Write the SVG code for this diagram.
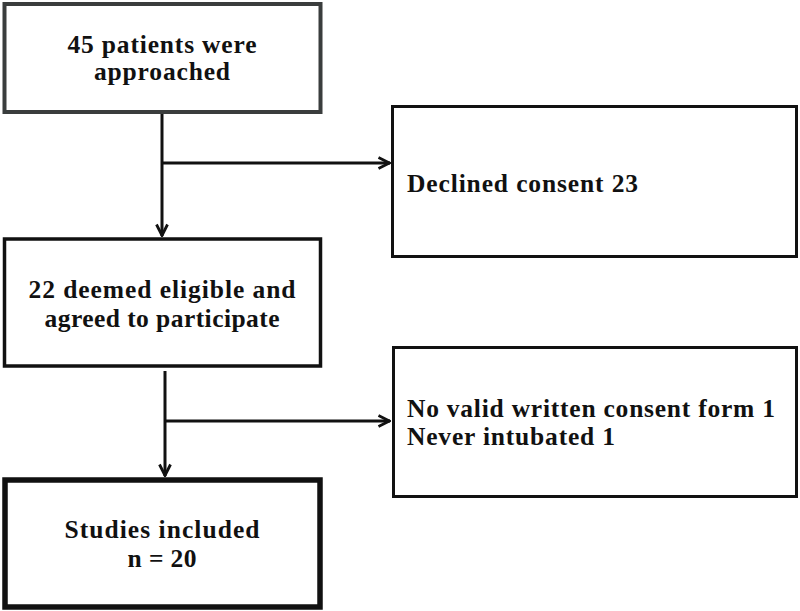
<svg xmlns="http://www.w3.org/2000/svg" width="800" height="611" viewBox="0 0 800 611">
<style>
.box{fill:#fff;stroke:#111;}
.t{font-family:"Liberation Serif","DejaVu Serif",serif;font-weight:bold;font-size:25.5px;fill:#111;}
.c{text-anchor:middle;}
.ln{stroke:#111;stroke-width:3;fill:none;}
</style>
<defs>
<marker id="ah" viewBox="0 0 14 14" refX="13" refY="7" markerWidth="14" markerHeight="14" markerUnits="userSpaceOnUse" orient="auto">
<path d="M1.5,1.5 L12.5,7 L1.5,12.5" fill="none" stroke="#111" stroke-width="2.8"/>
</marker>
</defs>
<rect width="800" height="611" fill="#fff"/>
<g id="connectors">
<line class="ln" x1="162" y1="113" x2="162" y2="236" marker-end="url(#ah)"/>
<line class="ln" x1="162" y1="163" x2="390" y2="163" marker-end="url(#ah)"/>
<line class="ln" x1="165" y1="371" x2="165" y2="476" marker-end="url(#ah)"/>
<line class="ln" x1="165" y1="421" x2="390" y2="421" marker-end="url(#ah)"/>
</g>
<g id="n1">
<rect class="box" x="4.5" y="4" width="316" height="108" stroke-width="4" style="stroke:#3a3d3d"/>
<text class="t c" x="162" y="53" textLength="189">45 patients were</text>
<text class="t c" x="162" y="80" textLength="136">approached</text>
</g>
<g id="n2">
<rect class="box" x="392.5" y="106.5" width="404" height="150" stroke-width="3"/>
<text class="t" x="407" y="192" textLength="231">Declined consent 23</text>
</g>
<g id="n3">
<rect class="box" x="4.5" y="239" width="316" height="127" stroke-width="3.5"/>
<text class="t c" x="162" y="298" textLength="267">22 deemed eligible and</text>
<text class="t c" x="162" y="327" textLength="235">agreed to participate</text>
</g>
<g id="n4">
<rect class="box" x="393.5" y="347.5" width="403" height="149" stroke-width="3"/>
<text class="t" x="407" y="417" textLength="368">No valid written consent form 1</text>
<text class="t" x="407" y="445" textLength="208">Never intubated 1</text>
</g>
<g id="n5">
<rect class="box" x="5" y="480" width="315" height="127" stroke-width="5.5"/>
<text class="t c" x="162" y="538" textLength="195">Studies included</text>
<text class="t c" x="162" y="567" textLength="69">n = 20</text>
</g>
</svg>
